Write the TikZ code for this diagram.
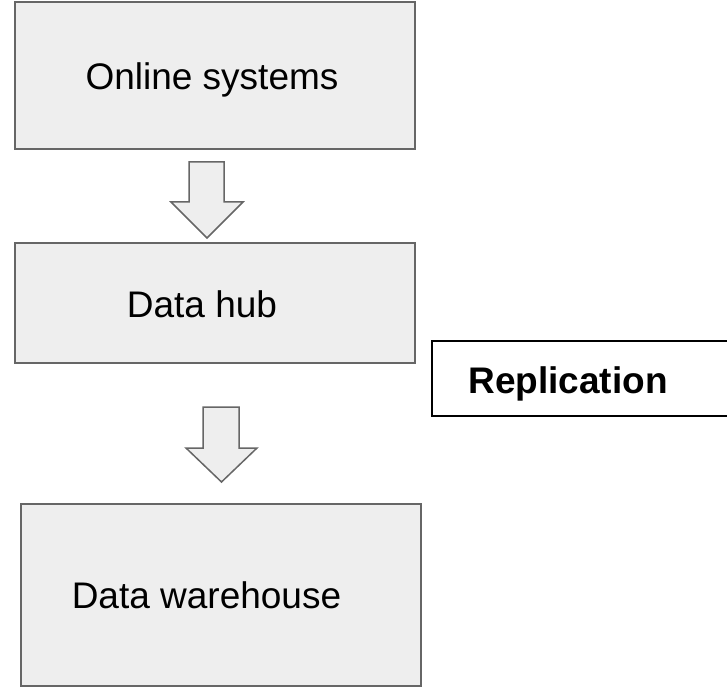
\documentclass[tikz,border=0pt]{standalone}
\usepackage{fontspec}
\setmainfont{Liberation Sans}
\definecolor{boxfill}{HTML}{EEEEEE}
\definecolor{edgegray}{HTML}{666666}
\begin{document}
\begin{tikzpicture}[x=1pt,y=1pt,
  stagebox/.style={draw=edgegray, fill=boxfill, line width=2pt, inner sep=0pt},
  blockarrow/.style={draw=edgegray, fill=boxfill, line width=1.5pt, line join=miter},
  lbl/.style={font=\fontsize{37}{44}\selectfont, inner sep=0pt, anchor=base},
  replbox/.style={draw=black, line width=1.5pt, inner sep=0pt}
]
\useasboundingbox (0,0) rectangle (727,686);
\clip (0,0) rectangle (727,686);
% stage boxes
\node[stagebox, minimum width=400pt, minimum height=147pt] (online) at (215,610.5) {};
\node[lbl] (onlinetext) at (212,596) {Online systems};
\node[stagebox, minimum width=400pt, minimum height=120pt] (hub) at (215,383) {};
\node[lbl] (hubtext) at (202,369) {Data hub};
\node[stagebox, minimum width=400pt, minimum height=182pt] (dw) at (221,91) {};
\node[lbl] (dwtext) at (206.5,78) {Data warehouse};
% replication box
\node[replbox, minimum width=320pt, minimum height=75pt] (repl) at (592,307.5) {};
\node[lbl, font=\bfseries\fontsize{37}{44}\selectfont] (repltext) at (568,293) {Replication};
% block arrows
\draw[blockarrow] (189,524) -- (224,524) -- (224,484) -- (243,484) -- (207,448) -- (171,484) -- (189,484) -- cycle;
\draw[blockarrow] (203,279) -- (239,279) -- (239,238) -- (257,238) -- (221.5,204) -- (186,238) -- (203,238) -- cycle;
\end{tikzpicture}
\end{document}
